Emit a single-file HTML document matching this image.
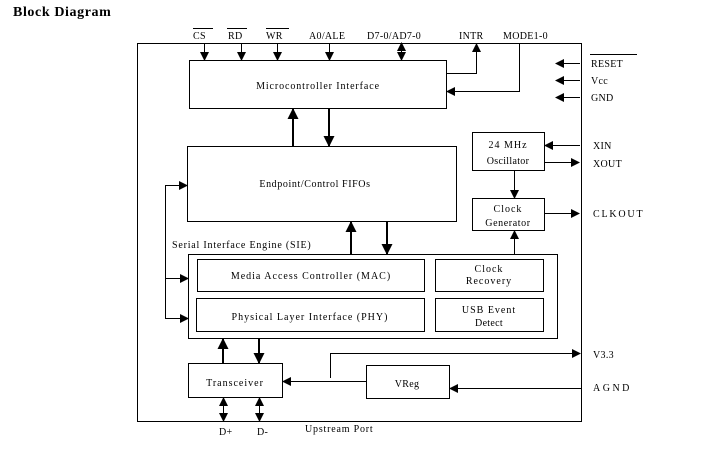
<!DOCTYPE html>
<html><head><meta charset="utf-8"><style>
html,body{margin:0;padding:0;background:#fff;}
svg{display:block;}
text{font-family:"Liberation Serif",serif;font-size:10px;fill:#000;}
</style></head><body>
<svg width="708" height="452" viewBox="0 0 708 452" xmlns="http://www.w3.org/2000/svg">
<defs>
<marker id="a" markerWidth="9" markerHeight="9" refX="8" refY="4.5" orient="auto" markerUnits="userSpaceOnUse"><path d="M0,0 L9,4.5 L0,9 z" fill="#000"/></marker>
<marker id="b" markerWidth="11" markerHeight="11" refX="10" refY="5.5" orient="auto" markerUnits="userSpaceOnUse"><path d="M0,0 L11,5.5 L0,11 z" fill="#000"/></marker>
</defs>
<text x="13" y="16" style="font-size:14px;font-weight:bold;letter-spacing:0.6px">Block Diagram</text>
<g fill="none" stroke="#000" stroke-width="1">
<rect x="137.5" y="43.5" width="444" height="378"/>
<rect x="189.5" y="60.5" width="257" height="48"/>
<rect x="187.5" y="146.5" width="269" height="75"/>
<rect x="188.5" y="254.5" width="369" height="84"/>
<rect x="197.5" y="259.5" width="227" height="32"/>
<rect x="196.5" y="298.5" width="228" height="33"/>
<rect x="435.5" y="259.5" width="108" height="32"/>
<rect x="435.5" y="298.5" width="108" height="33"/>
<rect x="472.5" y="132.5" width="72" height="38"/>
<rect x="472.5" y="198.5" width="72" height="32"/>
<rect x="188.5" y="363.5" width="94" height="34"/>
<rect x="366.5" y="365.5" width="83" height="33"/>
</g>
<g stroke="#000" stroke-width="1" fill="none" marker-end="url(#a)">
<line x1="204.5" y1="44" x2="204.5" y2="60"/>
<line x1="241.5" y1="44" x2="241.5" y2="60"/>
<line x1="277.5" y1="44" x2="277.5" y2="60"/>
<line x1="329.5" y1="44" x2="329.5" y2="60"/>
<line x1="401.5" y1="52" x2="401.5" y2="60"/>
<line x1="401.5" y1="52" x2="401.5" y2="43"/>
<polyline points="447,73.5 476.5,73.5 476.5,44"/>
<polyline points="519.5,43 519.5,91.5 447,91.5"/>
<line x1="580" y1="63.5" x2="556" y2="63.5"/>
<line x1="580" y1="80.5" x2="556" y2="80.5"/>
<line x1="580" y1="97.5" x2="556" y2="97.5"/>
<line x1="580" y1="145.5" x2="545" y2="145.5"/>
<line x1="545" y1="162.5" x2="579" y2="162.5"/>
<line x1="545" y1="213.5" x2="579" y2="213.5"/>
<line x1="514.5" y1="171" x2="514.5" y2="198"/>
<line x1="514.5" y1="254" x2="514.5" y2="231"/>
<polyline points="165.5,250 165.5,185.5 187,185.5"/>
<polyline points="165.5,250 165.5,318.5 188,318.5"/>
<line x1="165.5" y1="278.5" x2="188" y2="278.5"/>
<polyline points="330.5,378 330.5,353.5 580,353.5"/>
<line x1="366" y1="381.5" x2="283" y2="381.5"/>
<line x1="581" y1="388.5" x2="450" y2="388.5"/>
<line x1="223.5" y1="410" x2="223.5" y2="398"/>
<line x1="223.5" y1="410" x2="223.5" y2="421"/>
<line x1="259.5" y1="410" x2="259.5" y2="398"/>
<line x1="259.5" y1="410" x2="259.5" y2="421"/>
</g>
<g stroke="#000" stroke-width="2" fill="none" marker-end="url(#b)">
<line x1="293" y1="146" x2="293" y2="109"/>
<line x1="329" y1="108" x2="329" y2="146"/>
<line x1="351" y1="254" x2="351" y2="222"/>
<line x1="387" y1="222" x2="387" y2="254"/>
<line x1="223" y1="363" x2="223" y2="339"/>
<line x1="259" y1="339" x2="259" y2="363"/>
</g>
<g stroke="#000" stroke-width="1">
<line x1="193" y1="28.5" x2="213" y2="28.5"/>
<line x1="227" y1="28.5" x2="247" y2="28.5"/>
<line x1="266" y1="28.5" x2="289" y2="28.5"/>
<line x1="590" y1="54.5" x2="637" y2="54.5"/>
</g>
<g style="letter-spacing:0.3px">
<text x="193" y="39">CS</text>
<text x="228" y="39">RD</text>
<text x="266" y="39">WR</text>
<text x="309" y="39">A0/ALE</text>
<text x="367" y="39">D7-0/AD7-0</text>
<text x="459" y="39">INTR</text>
<text x="503" y="39">MODE1-0</text>
<text x="591" y="67">RESET</text>
<text x="591" y="84">Vcc</text>
<text x="591" y="101">GND</text>
<text x="593" y="149">XIN</text>
<text x="593" y="167">XOUT</text>
<text x="593" y="217" style="letter-spacing:1.8px">CLKOUT</text>
<text x="593" y="358">V3.3</text>
<text x="593" y="391" style="letter-spacing:2.5px">AGND</text>
<text x="318" y="89" style="letter-spacing:0.9px" text-anchor="middle">Microcontroller Interface</text>
<text x="315" y="187" style="letter-spacing:0.6px" text-anchor="middle">Endpoint/Control FIFOs</text>
<text x="172" y="248" style="letter-spacing:0.8px">Serial Interface Engine (SIE)</text>
<text x="311" y="279" style="letter-spacing:1px" text-anchor="middle">Media Access Controller (MAC)</text>
<text x="310" y="320" style="letter-spacing:1px" text-anchor="middle">Physical Layer Interface (PHY)</text>
<text x="489" y="272" style="letter-spacing:1px" text-anchor="middle">Clock</text>
<text x="489" y="284" style="letter-spacing:1px" text-anchor="middle">Recovery</text>
<text x="489" y="313" style="letter-spacing:1px" text-anchor="middle">USB Event</text>
<text x="489" y="326" text-anchor="middle">Detect</text>
<text x="508" y="148" style="letter-spacing:1px" text-anchor="middle">24 MHz</text>
<text x="508" y="164" text-anchor="middle">Oscillator</text>
<text x="508" y="212" style="letter-spacing:1px" text-anchor="middle">Clock</text>
<text x="508" y="226" style="letter-spacing:0.6px" text-anchor="middle">Generator</text>
<text x="235" y="386" style="letter-spacing:1px" text-anchor="middle">Transceiver</text>
<text x="407" y="387" text-anchor="middle">VReg</text>
<text x="219" y="435">D+</text>
<text x="257" y="435">D-</text>
<text x="305" y="432" style="letter-spacing:0.8px">Upstream Port</text>
</g>
</svg>
</body></html>
